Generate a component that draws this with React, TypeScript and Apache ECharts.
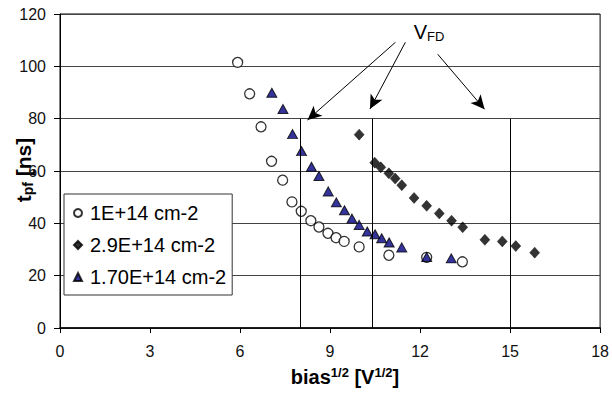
import React, { useEffect, useRef } from "react";
import * as echarts from "echarts";

const FONT = "'Liberation Sans', Arial, sans-serif";

const xTicks = [0, 3, 6, 9, 12, 15, 18];
const yTicks = [0, 20, 40, 60, 80, 100, 120];

const seriesNames = ["1E+14 cm-2", "2.9E+14 cm-2", "1.70E+14 cm-2"];

const circlePts: [number, number][] = [
  [5.92, 101.5], [6.32, 89.5], [6.70, 76.9], [7.05, 63.7], [7.42, 56.5],
  [7.73, 48.2], [8.04, 44.6], [8.36, 41.0], [8.63, 38.6], [8.93, 36.2],
  [9.20, 34.5], [9.47, 33.1], [9.97, 31.0], [10.96, 27.8], [12.22, 27.0],
  [13.41, 25.3],
];

const diamondPts: [number, number][] = [
  [9.97, 73.9], [10.49, 63.2], [10.69, 61.4], [10.96, 59.1], [11.17, 57.1],
  [11.39, 54.6], [11.80, 49.7], [12.22, 46.7], [12.64, 43.8], [13.05, 41.0],
  [13.42, 38.5], [14.16, 33.7], [14.74, 33.1], [15.19, 31.3], [15.82, 28.8],
];

const trianglePts: [number, number][] = [
  [7.06, 89.9], [7.43, 83.7], [7.75, 74.1], [8.05, 67.6], [8.38, 61.6],
  [8.63, 58.1], [8.94, 52.2], [9.21, 48.0], [9.48, 45.0], [9.73, 41.8],
  [9.97, 39.4], [10.24, 36.9], [10.50, 35.8], [10.72, 34.3], [10.97, 32.7],
  [11.39, 30.8], [12.22, 27.1], [13.04, 26.6],
];

// V_FD vertical markers (x position, from y=0 to y=80)
const vfdX = [8.0, 10.4, 15.0];
const vfdTop = 80;

// arrows: [startX, startY, tipX, tipY]
const arrows: [number, number, number, number][] = [
  [11.18, 109.2, 8.25, 79.5],
  [11.51, 109.2, 10.33, 83.7],
  [12.59, 104.6, 14.15, 83.6],
];

export default function App() {
  const ref = useRef<HTMLDivElement>(null);
  useEffect(() => {
    if (!ref.current) return;
    const chart = echarts.init(ref.current, undefined, { renderer: "svg" });

    const markData: any[] = [];
    vfdX.forEach((x) => {
      markData.push([
        { coord: [x, 0], symbol: "none" },
        { coord: [x, vfdTop], symbol: "none" },
      ]);
    });
    arrows.forEach(([x0, y0, x1, y1]) => {
      markData.push([
        { coord: [x0, y0], symbol: "none" },
        { coord: [x1, y1], symbol: "arrow", symbolSize: [10, 14] },
      ]);
    });

    chart.setOption({
      animation: false,
      backgroundColor: "#fff",
      textStyle: { fontFamily: FONT },
      grid: {
        left: 60,
        right: 10,
        top: 14,
        bottom: 66,
        show: true,
        borderColor: "#000",
        borderWidth: 1,
        backgroundColor: "transparent",
      },
      legend: {
        orient: "vertical",
        left: 64,
        top: 194,
        data: seriesNames,
        itemWidth: 8,
        itemHeight: 8,
        itemGap: 12,
        padding: [9, 6, 8, 9],
        backgroundColor: "#fff",
        borderColor: "#333",
        borderWidth: 1,
        textStyle: { fontSize: 20, color: "#000", fontFamily: FONT, padding: [0, 0, 0, 3] },
      },
      xAxis: {
        type: "value",
        min: xTicks[0],
        max: xTicks[xTicks.length - 1],
        interval: 3,
        axisLine: { show: true, lineStyle: { color: "#000", width: 1.5 } },
        axisTick: { show: true, length: 5, lineStyle: { color: "#000" } },
        axisLabel: { fontSize: 16, color: "#111", margin: 15, fontFamily: FONT },
        splitLine: { show: false },
      },
      yAxis: {
        type: "value",
        min: yTicks[0],
        max: yTicks[yTicks.length - 1],
        interval: 20,
        axisLine: { show: true, lineStyle: { color: "#000", width: 1 } },
        axisTick: { show: true, length: 6, lineStyle: { color: "#000" } },
        axisLabel: { fontSize: 16, color: "#111", margin: 14, fontFamily: FONT },
        splitLine: { show: true, lineStyle: { color: "#444", width: 1 } },
      },
      graphic: [
        {
          type: "text",
          x: 345,
          y: 377,
          style: {
            text: "{b|bias}{s|1/2}{b| [V}{s|1/2}{b|]}",
            align: "center",
            verticalAlign: "middle",
            rich: {
              b: { fontSize: 20, fontWeight: "bold", fontFamily: FONT, fill: "#000", lineHeight: 22 },
              s: { fontSize: 13, fontWeight: "bold", fontFamily: FONT, fill: "#000", verticalAlign: "top", lineHeight: 14 },
            },
          },
        },
        {
          type: "text",
          x: 23,
          y: 170,
          rotation: Math.PI / 2,
          style: {
            text: "{b|t}{s|pf}{b| [ns]}",
            align: "center",
            verticalAlign: "middle",
            rich: {
              b: { fontSize: 21, fontWeight: "bold", fontFamily: FONT, fill: "#000", lineHeight: 24 },
              s: { fontSize: 14, fontWeight: "bold", fontFamily: FONT, fill: "#000", verticalAlign: "bottom", lineHeight: 14 },
            },
          },
        },
        {
          type: "text",
          x: 429,
          y: 32,
          style: {
            text: "{v|V}{s|FD}",
            align: "center",
            verticalAlign: "middle",
            rich: {
              v: { fontSize: 20, fontFamily: FONT, fill: "#000", lineHeight: 22 },
              s: { fontSize: 13, fontFamily: FONT, fill: "#000", verticalAlign: "bottom", lineHeight: 14 },
            },
          },
        },
      ],
      series: [
        {
          name: seriesNames[0],
          type: "scatter",
          data: circlePts,
          symbol: "circle",
          symbolSize: 10,
          itemStyle: { color: "#fff", borderColor: "#000", borderWidth: 1.3 },
          z: 3,
          markLine: {
            silent: true,
            animation: false,
            symbol: ["none", "none"],
            label: { show: false },
            lineStyle: { color: "#000", width: 1, type: "solid" },
            emphasis: { disabled: true },
            data: markData,
          },
        },
        {
          name: seriesNames[1],
          type: "scatter",
          data: diamondPts,
          symbol: "diamond",
          symbolSize: [10, 11],
          itemStyle: { color: "#000", borderColor: "#000", borderWidth: 0.5 },
          z: 3,
        },
        {
          name: seriesNames[2],
          type: "scatter",
          data: trianglePts,
          symbol: "triangle",
          symbolSize: [10, 9],
          itemStyle: { color: "#000080", borderColor: "#000", borderWidth: 1 },
          z: 3,
        },
      ],
    });
    return () => chart.dispose();
  }, []);
  return (
    <div
      ref={ref}
      style={{ position: "fixed", left: 0, top: 0, width: 612, height: 394, background: "#fff" }}
    />
  );
}
